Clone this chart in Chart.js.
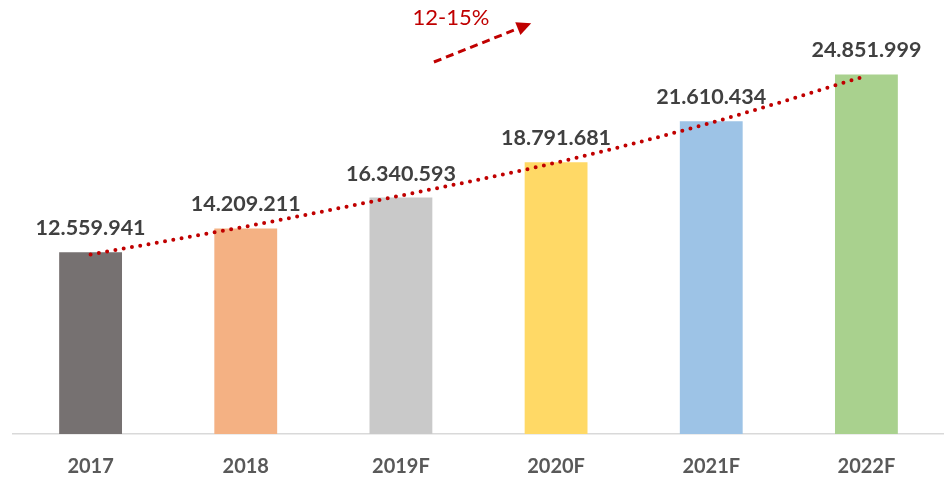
<!DOCTYPE html>
<html>
<head>
<meta charset="utf-8">
<script src="https://cdn.jsdelivr.net/npm/chart.js@4"></script>
<style>
  html, body { margin: 0; padding: 0; background: #fff; }
  #wrap { width: 944px; height: 477px; position: relative; }
</style>
</head>
<body>
<div id="wrap"><canvas id="marketChart"></canvas></div>
<script>
// chart data
const years = ["2017", "2018", "2019F", "2020F", "2021F", "2022F"];
const marketSize = [12559941, 14209211, 16340593, 18791681, 21610434, 24851999];
const trendValues = [12410000, 14340000, 16480000, 18760000, 21520000, 24760000];
const barColors = ["#767171", "#F4B183", "#C9C9C9", "#FFD966", "#9DC3E6", "#A9D18E"];
const growthLabel = "12-15%";

const fmt = (v) => v.toLocaleString("de-DE");

// value labels on top of the bars
const barLabels = {
  id: "barLabels",
  afterDatasetsDraw(chart) {
    const ctx = chart.ctx;
    const meta = chart.getDatasetMeta(1);
    ctx.save();
    ctx.font = "bold 21.5px Lato";
    ctx.fillStyle = "#404040";
    ctx.textAlign = "center";
    ctx.textBaseline = "alphabetic";
    meta.data.forEach((bar, i) => {
      ctx.fillText(fmt(marketSize[i]), bar.x, bar.y - 17);
    });
    ctx.restore();
  },
};

// growth arrow + text above the chart
const growthArrow = {
  id: "growthArrow",
  afterDraw(chart) {
    const ctx = chart.ctx;
    const x0 = chart.scales.x.getPixelForValue(2) + 33;
    const y0 = 62;
    const x1 = x0 + 88, y1 = 27;
    ctx.save();
    ctx.strokeStyle = "#C00000";
    ctx.fillStyle = "#C00000";
    ctx.lineWidth = 3;
    ctx.setLineDash([8, 5]);
    ctx.beginPath();
    ctx.moveTo(x0, y0);
    ctx.lineTo(x1, y1);
    ctx.stroke();
    ctx.setLineDash([]);
    // arrow head
    const ang = Math.atan2(y1 - y0, x1 - x0);
    const tipX = x1 + Math.cos(ang) * 10, tipY = y1 + Math.sin(ang) * 10;
    ctx.beginPath();
    ctx.moveTo(tipX, tipY);
    ctx.lineTo(tipX - Math.cos(ang - 0.45) * 16, tipY - Math.sin(ang - 0.45) * 16);
    ctx.lineTo(tipX - Math.cos(ang + 0.45) * 16, tipY - Math.sin(ang + 0.45) * 16);
    ctx.closePath();
    ctx.fill();
    ctx.font = "22px Lato";
    ctx.textAlign = "center";
    ctx.textBaseline = "alphabetic";
    ctx.fillText(growthLabel, x0 + 17, 25);
    ctx.restore();
  },
};

const ctx = document.getElementById("marketChart").getContext("2d");
new Chart(ctx, {
  type: "bar",
  data: {
    labels: years,
    datasets: [
      {
        type: "line",
        data: trendValues,
        borderColor: "#C00000",
        borderWidth: 4,
        borderDash: [0, 8.4],
        borderCapStyle: "round",
        pointRadius: 0,
        cubicInterpolationMode: "monotone",
        fill: false,
        order: 0,
      },
      {
        data: marketSize,
        backgroundColor: barColors,
        categoryPercentage: 1,
        barPercentage: 0.405,
        order: 1,
      },
    ],
  },
  options: {
    responsive: true,
    maintainAspectRatio: false,
    animation: false,
    layout: { padding: { left: 13, right: 0, top: 0, bottom: 0 } },
    scales: {
      y: {
        display: false,
        min: 0,
        max: 30000000,
      },
      x: {
        grid: { display: false },
        border: { display: true, color: "#D9D9D9", width: 1.5 },
        afterFit: (scale) => {
          scale.height = 43;
        },
        ticks: {
          padding: 13,
          color: "#595959",
          font: { family: "Lato", weight: "bold", size: 20 },
        },
      },
    },
    plugins: {
      legend: { display: false },
      tooltip: { enabled: false },
    },
  },
  plugins: [barLabels, growthArrow],
});
</script>
</body>
</html>
